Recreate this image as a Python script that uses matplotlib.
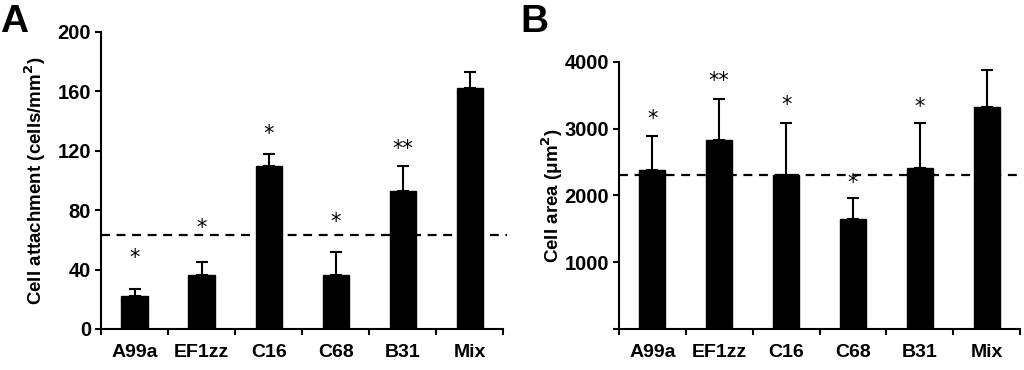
#!/usr/bin/env python

import numpy as np
import matplotlib
matplotlib.use("Agg")
import matplotlib.pyplot as plt

plt.rcParams['font.family'] = ['Liberation Sans', 'DejaVu Sans']

strains = ["A99a", "EF1zz", "C16", "C68", "B31", "Mix"]

attach = [22, 36, 110, 36, 93, 162]
attach_err = [5, 9, 7.5, 15.5, 17, 11]
attach_stars = ["*", "*", "*", "*", "**", ""]
attach_star_y = [48, 68, 131, 72, 121, 0]
attach_ref = 63

area = [2380, 2830, 2310, 1650, 2410, 3330]
area_err = [510, 620, 780, 310, 680, 550]
area_stars = ["*", "**", "*", "*", "*", ""]
area_star_y = [3140, 3720, 3360, 2190, 3330, 0]
area_ref = 2310


def draw(ax, vals, errs, stars, star_y, ref, ymax, yticks, ylabel, ref_extend, lpad):
    x = np.arange(len(strains))
    ax.bar(x, vals, width=0.39, color="black", edgecolor="black", zorder=2)
    ax.errorbar(x, vals, yerr=[np.zeros(len(errs)), errs], fmt="none",
                ecolor="black", elinewidth=1.5, capsize=4, capthick=1.5, zorder=3)
    ax.plot([-0.5, 5.5 + ref_extend], [ref, ref], ls=(0, (4, 3)), color="black",
            lw=1.6, clip_on=False, zorder=4)
    for xi, s, sy in zip(x, stars, star_y):
        if s:
            ax.text(xi, sy, s, ha="center", va="center", fontsize=15,
                    family="DejaVu Sans")
    ax.set_xlim(-0.5, 5.5)
    ax.set_ylim(0, ymax)
    ax.set_yticks(yticks)
    ax.set_yticklabels([str(t) if t != 0 or ymax < 1000 else "" for t in yticks],
                       fontsize=14.5, fontweight="bold")
    ax.set_xticks(x)
    ax.set_xticklabels(strains, fontsize=14, fontweight="bold")
    ax.tick_params(axis="x", which="major", length=0, pad=11)
    ax.set_xticks(np.arange(-0.5, 6, 1), minor=True)
    ax.tick_params(axis="x", which="minor", length=4, width=1.5, direction="out")
    ax.tick_params(axis="y", length=4, width=1.5, pad=3)
    for side in ["top", "right"]:
        ax.spines[side].set_visible(False)
    for side in ["left", "bottom"]:
        ax.spines[side].set_linewidth(1.5)
    ax.set_ylabel(ylabel, fontsize=13.5, fontweight="bold", labelpad=lpad)


fig = plt.figure(figsize=(10.24, 3.7), dpi=100)
axA = fig.add_axes([0.0986, 0.111, 0.393, 0.8027])
axB = fig.add_axes([0.6045, 0.111, 0.3916, 0.7216])

draw(axA, attach, attach_err, attach_stars, attach_star_y, attach_ref, 200,
     [0, 40, 80, 120, 160, 200], "Cell attachment (cells/mm$^\\mathbf{2}$)", 0.06, 7)
draw(axB, area, area_err, area_stars, area_star_y, area_ref, 4000,
     [0, 1000, 2000, 3000, 4000], "Cell area (\u03bcm$^\\mathbf{2}$)", 0.0, 0)

fig.text(0.0, 0.99, "A", fontsize=28, fontweight="bold", va="top", ha="left")
fig.text(0.508, 0.99, "B", fontsize=28, fontweight="bold", va="top", ha="left")

fig.savefig("out.png", dpi=100)
